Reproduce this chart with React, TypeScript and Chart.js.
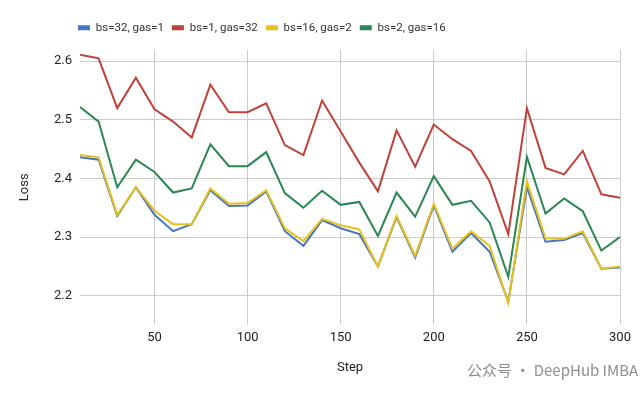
import React, { useEffect, useRef } from "react";
import { Chart, registerables } from "chart.js";

Chart.register(...registerables);

const steps = [10, 20, 30, 40, 50, 60, 70, 80, 90, 100, 110, 120, 130, 140, 150, 160, 170, 180, 190, 200, 210, 220, 230, 240, 250, 260, 270, 280, 290, 300];

const bs32gas1 = [2.436, 2.432, 2.336, 2.385, 2.338, 2.31, 2.322, 2.38, 2.353, 2.354, 2.378, 2.31, 2.285, 2.329, 2.315, 2.305, 2.25, 2.334, 2.265, 2.354, 2.275, 2.307, 2.275, 2.19, 2.385, 2.292, 2.295, 2.307, 2.246, 2.248];
const bs1gas32 = [2.611, 2.605, 2.52, 2.572, 2.518, 2.497, 2.47, 2.56, 2.513, 2.513, 2.528, 2.457, 2.44, 2.533, 2.48, 2.427, 2.378, 2.482, 2.42, 2.492, 2.467, 2.447, 2.395, 2.305, 2.52, 2.418, 2.407, 2.447, 2.373, 2.367];
const bs16gas2 = [2.44, 2.436, 2.338, 2.385, 2.345, 2.322, 2.322, 2.383, 2.357, 2.358, 2.38, 2.315, 2.293, 2.331, 2.32, 2.313, 2.25, 2.336, 2.268, 2.357, 2.28, 2.31, 2.285, 2.188, 2.395, 2.298, 2.297, 2.31, 2.246, 2.25];
const bs2gas16 = [2.522, 2.497, 2.385, 2.432, 2.411, 2.376, 2.383, 2.458, 2.421, 2.421, 2.445, 2.375, 2.35, 2.379, 2.355, 2.36, 2.302, 2.376, 2.335, 2.404, 2.355, 2.362, 2.325, 2.232, 2.437, 2.34, 2.366, 2.344, 2.277, 2.3];

const seriesLabels = ["bs=32, gas=1", "bs=1, gas=32", "bs=16, gas=2", "bs=2, gas=16"];
const seriesValues = [bs32gas1, bs1gas32, bs16gas2, bs2gas16];
const seriesColors = ["#4676c0", "#bd423a", "#e6c21e", "#2a8652"];

const xTicks = [50, 100, 150, 200, 250, 300];
const yTicks = [2.2, 2.3, 2.4, 2.5, 2.6];

const FONT = "Roboto, 'Liberation Sans', Arial, sans-serif";

export default function App() {
  const canvasRef = useRef<HTMLCanvasElement | null>(null);

  useEffect(() => {
    const canvas = canvasRef.current;
    if (!canvas) return;

    const datasets = seriesLabels.map((label, i) => ({
      label,
      data: steps.map((s, j) => ({ x: s, y: seriesValues[i][j] })),
      borderColor: seriesColors[i],
      backgroundColor: seriesColors[i],
      borderWidth: 2,
      pointRadius: 0,
      pointHoverRadius: 0,
      tension: 0,
      fill: false,
      order: seriesLabels.length - i,
    }));

    const chart = new Chart(canvas, {
      type: "line",
      data: { datasets },
      options: {
        responsive: false,
        animation: false,
        events: [],
        layout: { padding: { top: 20, left: 0, right: 20, bottom: 0 } },
        plugins: {
          legend: {
            position: "top",
            align: "start",
            labels: {
              boxWidth: 12,
              boxHeight: 5,
              padding: 8,
              color: "#333333",
              font: { family: FONT, size: 11.5 },
              sort: (a: any, b: any) => a.datasetIndex - b.datasetIndex,
              generateLabels: (c: any) => {
                const items = Chart.defaults.plugins.legend.labels.generateLabels(c);
                return items.map((it: any) => ({
                  ...it,
                  lineWidth: 0,
                  fillStyle: seriesColors[it.datasetIndex],
                  strokeStyle: seriesColors[it.datasetIndex],
                }));
              },
            },
          },
          tooltip: { enabled: false },
        },
        scales: {
          x: {
            type: "linear",
            min: 10,
            max: 300,
            afterBuildTicks: (scale: any) => {
              scale.ticks = xTicks.map((v) => ({ value: v }));
            },
            afterFit: (scale: any) => {
              scale.height = 71;
            },
            grid: { color: "#cccccc", lineWidth: 1, drawTicks: false },
            border: { display: false },
            ticks: {
              padding: 5,
              color: "#222222",
              maxRotation: 0,
              font: { family: FONT, size: 13 },
              callback: (v: any) => String(v),
            },
            title: {
              display: true,
              text: "Step",
              color: "#222222",
              font: { family: FONT, size: 13 },
              padding: { top: 20, bottom: 20 },
            },
          },
          y: {
            type: "linear",
            min: 2.15,
            max: 2.62,
            afterBuildTicks: (scale: any) => {
              scale.ticks = yTicks.map((v) => ({ value: v }));
            },
            afterFit: (scale: any) => {
              scale.width = 80;
            },
            grid: { color: "#cccccc", lineWidth: 1, drawTicks: false },
            border: { display: false },
            ticks: {
              padding: 8,
              color: "#222222",
              font: { family: FONT, size: 13 },
              callback: (v: any) => Number(v).toFixed(1),
            },
            title: {
              display: true,
              text: "Loss",
              color: "#222222",
              font: { family: FONT, size: 13 },
              padding: { top: 17, bottom: 17 },
            },
          },
        },
      },
      plugins: [
        {
          id: "legendPos",
          afterLayout(c: any) {
            if (c.legend) {
              c.legend.left = 70;
              c.legend.top = 14;
            }
          },
        },
      ],
    } as any);

    return () => {
      chart.destroy();
    };
  }, []);

  return (
    <div
      style={{
        position: "absolute",
        left: 0,
        top: 0,
        width: 640,
        height: 396,
        background: "#ffffff",
      }}
    >
      <canvas ref={canvasRef} width={640} height={396} style={{ display: "block" }} />
      <span
        style={{
          position: "absolute",
          left: 467,
          top: 360,
          fontFamily: "'Noto Sans CJK SC', 'Noto Sans', sans-serif",
          fontSize: 15,
          lineHeight: "20px",
          color: "#8f8f8f",
          whiteSpace: "nowrap",
        }}
      >
        公众号 · DeepHub IMBA
      </span>
    </div>
  );
}
